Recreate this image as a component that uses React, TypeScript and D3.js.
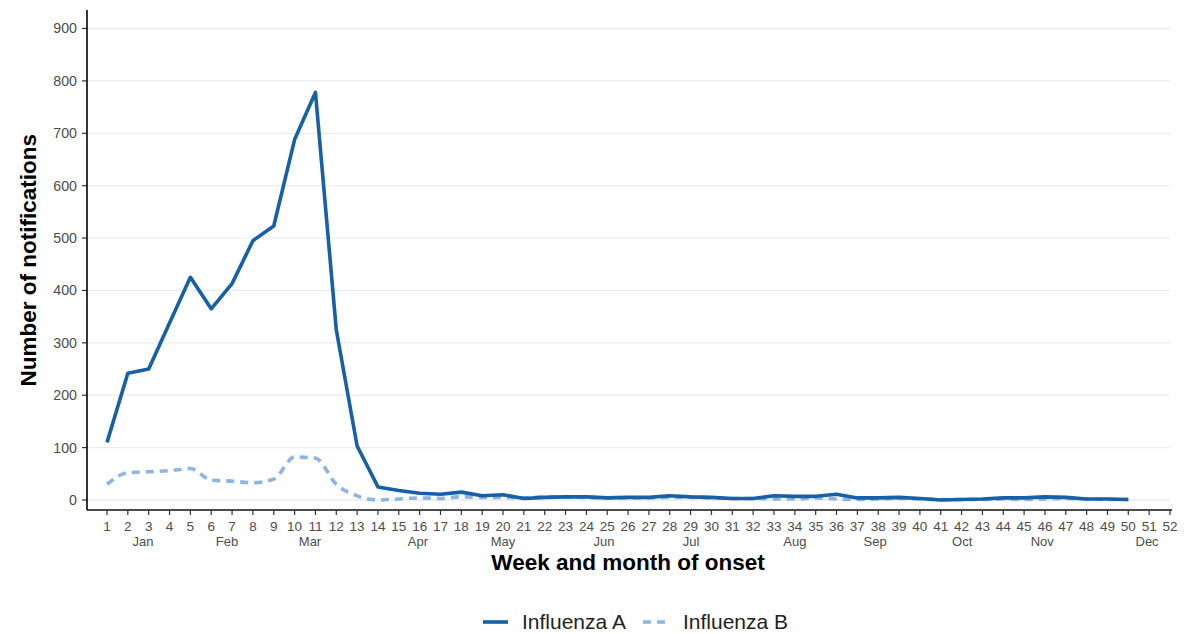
import React from "react";
import * as d3 from "d3";

const weeks = d3.range(1, 53);
const dataWeeks = d3.range(1, 51);
const influenzaA = [110, 242, 250, 338, 425, 365, 413, 495, 523, 688, 778, 325, 103, 25, 18, 13, 11, 15, 8, 10, 3, 5, 6, 6, 4, 5, 5, 8, 6, 5, 3, 3, 8, 7, 7, 11, 4, 4, 5, 3, 0, 1, 2, 4, 4, 6, 5, 2, 2, 1];
const influenzaB = [30, 52, 54, 56, 60, 38, 36, 33, 40, 82, 80, 30, 8, 0, 2, 4, 3, 6, 5, 5, 4, 6, 6, 5, 4, 4, 4, 5, 5, 4, 3, 3, 2, 2, 4, 2, 1, 2, 3, 2, 1, 1, 1, 2, 1, 2, 3, 2, 1, 1];
const monthLabels = ["Jan", "Feb", "Mar", "Apr", "May", "Jun", "Jul", "Aug", "Sep", "Oct", "Nov", "Dec"];
const monthWeeks = [2.73, 6.76, 10.74, 15.92, 20.0, 24.85, 29.02, 34.0, 37.85, 42.03, 45.87, 50.9];
const yTicks = [0, 100, 200, 300, 400, 500, 600, 700, 800, 900];

const W = 1186, H = 634;
const colA = "#1560A6";
const colB = "#8DB4E2";
const font = "'Liberation Sans', Arial, sans-serif";

export default function App() {
  const x = d3.scaleLinear().domain([1, 52]).range([107, 1170]);
  const y = d3.scaleLinear().domain([0, 900]).range([500, 28.5]);
  const lineA = d3.line<number>().x((_, i) => x(dataWeeks[i])).y(d => y(d)).curve(d3.curveLinear);
  const lineB = d3.line<number>().x((_, i) => x(dataWeeks[i])).y(d => y(d)).curve(d3.curveMonotoneX);
  const axisY = 510;
  return (
    <svg width={W} height={H} style={{ position: "absolute", left: 0, top: 0, background: "#fff" }} fontFamily={font}>
      {yTicks.map(t => (
        <g key={t}>
          <line x1={87} x2={1170} y1={y(t)} y2={y(t)} stroke="#ebebeb" strokeWidth={1.3} />
          <line x1={82} x2={87} y1={y(t)} y2={y(t)} stroke="#333" strokeWidth={1.2} />
          <text x={77} y={y(t)} dy="0.35em" textAnchor="end" fontSize={14.2} fill="#4d4d4d">{t}</text>
        </g>
      ))}
      <line x1={87} x2={87} y1={10} y2={axisY} stroke="#111" strokeWidth={1.7} />
      <line x1={87} x2={1172} y1={axisY} y2={axisY} stroke="#111" strokeWidth={1.7} />
      {weeks.map(w => (
        <g key={w}>
          <line x1={x(w)} x2={x(w)} y1={axisY} y2={axisY + 5} stroke="#333" strokeWidth={1.2} />
          <text x={x(w)} y={axisY + 16} dy="0.35em" textAnchor="middle" fontSize={13.5} fill="#4d4d4d">{w}</text>
        </g>
      ))}
      {monthLabels.map((m, i) => (
        <text key={m} x={x(monthWeeks[i])} y={axisY + 31} dy="0.35em" textAnchor="middle" fontSize={13} fill="#4d4d4d">{m}</text>
      ))}
      <path d={lineB(influenzaB) || ""} fill="none" stroke={colB} strokeWidth={3.6} strokeDasharray="8,6" />
      <path d={lineA(influenzaA) || ""} fill="none" stroke={colA} strokeWidth={3.6} strokeLinejoin="round" />
      <text x={628} y={562} dy="0.35em" textAnchor="middle" fontSize={22.5} fontWeight="bold" fill="#000">Week and month of onset</text>
      <text transform={`translate(28,${(y(0) + y(900)) / 2 - 4}) rotate(-90)`} textAnchor="middle" dy="0.35em" fontSize={22.5} fontWeight="bold" fill="#000">Number of notifications</text>
      <line x1={483} x2={508} y1={622} y2={622} stroke={colA} strokeWidth={3.6} />
      <text x={522} y={622} dy="0.35em" fontSize={21} fill="#222">Influenza A</text>
      <line x1={643} x2={668} y1={622} y2={622} stroke={colB} strokeWidth={3.6} strokeDasharray="8,6" />
      <text x={683} y={622} dy="0.35em" fontSize={21} fill="#222">Influenza B</text>
    </svg>
  );
}
